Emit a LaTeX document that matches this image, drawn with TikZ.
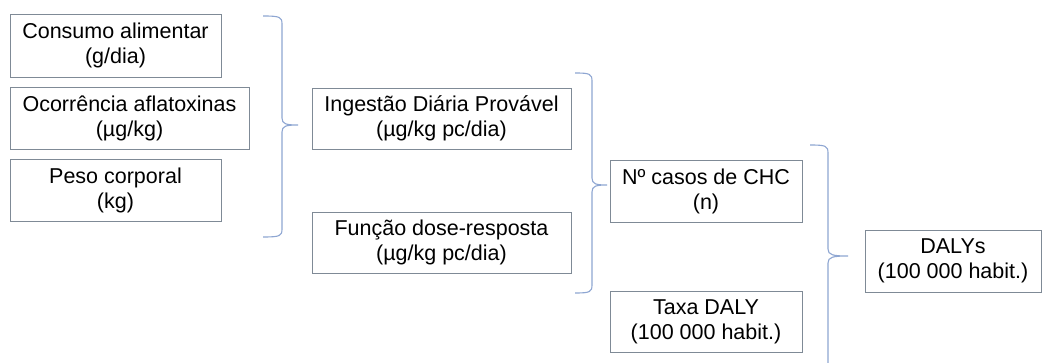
\documentclass[tikz,border=0pt]{standalone}
\usepackage{fontspec}
\setmainfont{Liberation Sans}
\begin{document}
\begin{tikzpicture}[x=1pt,y=-1pt,
  box/.style={draw=boxgray,line width=0.9pt,inner sep=0pt,align=center,
    font=\fontsize{21.5}{25}\selectfont,text=black},
  brace/.style={draw=bracecol,line width=1.1pt}]
\definecolor{boxgray}{HTML}{7F8A96}
\definecolor{bracecol}{HTML}{8EA6D2}
\useasboundingbox[fill=white] (0,0) rectangle (1042,363);
% boxes
\node[box,minimum width=211pt,minimum height=63pt] (cons) at (115.5,45.5) {Consumo alimentar\\(g/dia)};
\node[box,minimum width=239pt,minimum height=62pt] (ocor) at (129.5,118) {Ocorrência aflatoxinas\\(µg/kg)};
\node[box,minimum width=211pt,minimum height=62pt] (peso) at (115.5,190) {Peso corporal\\(kg)};
\node[box,minimum width=259pt,minimum height=61pt] (idp) at (441.5,118.5) {Ingestão Diária Provável\\(µg/kg pc/dia)};
\node[box,minimum width=259pt,minimum height=61pt] (fdr) at (441.5,242.5) {Função dose-resposta\\(µg/kg pc/dia)};
\node[box,minimum width=192pt,minimum height=62pt] (chc) at (706,191) {Nº casos de CHC\\(n)};
\node[box,minimum width=192pt,minimum height=61pt] (taxa) at (706,321.5) {Taxa DALY\\(100 000 habit.)};
\node[box,minimum width=176pt,minimum height=62pt] (daly) at (953,261) {DALYs\\(100 000 habit.)};
% braces
\draw[brace] (263,16) .. controls (280,16) and (282,17) .. (282,24)
  -- (282,118) .. controls (282,124) and (286,125) .. (298,125)
  .. controls (286,125) and (282,126) .. (282,132)
  -- (282,229) .. controls (282,236) and (280,237) .. (263,237);
\draw[brace] (575,73) .. controls (590,73) and (592,74) .. (592,81)
  -- (592,178) .. controls (592,184) and (596,185) .. (607,185)
  .. controls (596,185) and (592,186) .. (592,192)
  -- (592,285) .. controls (592,292) and (590,293) .. (575,293);
\draw[brace] (810,145) .. controls (826,145) and (828,146) .. (828,153)
  -- (828,249) .. controls (828,255) and (833,256) .. (848,256)
  .. controls (833,256) and (828,257) .. (828,263)
  -- (828,363);
\end{tikzpicture}
\end{document}
